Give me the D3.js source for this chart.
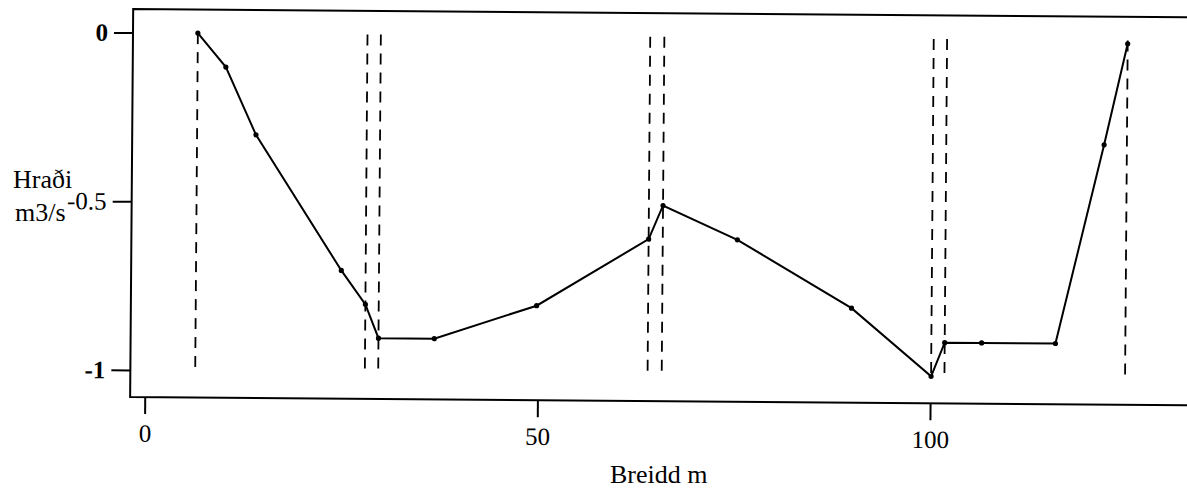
<!DOCTYPE html>
<html>
<head>
<meta charset="utf-8">
<script src="https://cdn.jsdelivr.net/npm/d3@7"></script>
<style>
    body { margin: 0; background: #fff; }
    #chart-container { width: 1187px; height: 493px; }
</style>
</head>
<body>
<div id="chart-container"></div>
<script>
// measured cross-section: distance (m) and speed
var breidd = [6.4, 10.0, 13.9, 24.9, 28.0, 29.7, 36.8, 49.8, 64.0, 65.8, 75.3, 89.9, 100.1, 101.8, 106.5, 115.9, 121.9, 124.8];
var hradi = [0, -0.1, -0.3, -0.7, -0.8, -0.9, -0.9, -0.8, -0.6, -0.5, -0.6, -0.8, -1.0, -0.9, -0.9, -0.9, -0.31, -0.01];
// dashed section boundaries
var skil = [6.4, 28.0, 29.7, 64.0, 65.8, 100.1, 101.8, 124.8];
var skilTop = 0, skilBottom = -1;
var xTicks = [0, 50, 100];
var yTicks = [0, -0.5, -1];
var yTickLabels = ["0", "-0.5", "-1"];

var serif = '"Liberation Serif", "Times New Roman", "DejaVu Serif", serif';

var containerStyle = document.querySelector('#chart-container').getBoundingClientRect();
var width = containerStyle.width,
    height = containerStyle.height,
    plotLeft = 133,
    plotTop = 9,
    plotBottom = 397,
    plotRight = 1200,
    tilt = 0.45;

var xScale = d3.scaleLinear()
    .domain([-1.86, 134])
    .range([plotLeft, plotRight]);

var yScale = d3.scaleLinear()
    .domain([0.07, -1.08])
    .range([plotTop, plotBottom]);

var points = breidd.map((d, i) => ({ x: d, y: hradi[i] }));

var svg = d3.select("#chart-container").append('svg')
    .attr('width', width)
    .attr('height', height);

// the scanned figure is slightly rotated
var view = svg.append("g")
    .attr("transform", "rotate(" + tilt + "," + plotLeft + "," + yScale(0) + ")");

view.append('path')
    .attr('d', 'M' + plotRight + ',' + plotTop + 'H' + plotLeft + 'V' + plotBottom + 'H' + plotRight)
    .attr('fill', 'none')
    .attr('stroke', '#000')
    .attr('stroke-width', 2);

var yAxis = d3.axisLeft(yScale)
    .tickValues(yTicks)
    .tickFormat((d, i) => yTickLabels[i])
    .tickSize(19)
    .tickPadding(6);

var xAxis = d3.axisBottom(xScale)
    .tickValues(xTicks)
    .tickSize(17)
    .tickPadding(10);

var gY = view.append("g")
    .attr("class", "axis axis--y")
    .attr("transform", "translate(" + plotLeft + ",0)")
    .call(yAxis);

var gX = view.append("g")
    .attr("class", "axis axis--x")
    .attr("transform", "translate(0," + plotBottom + ")")
    .call(xAxis);

[gX, gY].forEach(g => {
    g.select('.domain').remove();
    g.selectAll('line').attr('stroke', '#000').attr('stroke-width', 2);
    g.selectAll('text')
        .attr('fill', '#000')
        .attr('font-family', serif)
        .attr('font-size', 25);
});
gY.selectAll('text').attr('font-weight', (d, i) => i == 1 ? 'normal' : 'bold');

view.selectAll('.skil')
    .data(skil).enter().append('line')
    .attr('class', 'skil')
    .attr('x1', d => xScale(d))
    .attr('x2', d => xScale(d))
    .attr('y1', yScale(skilTop))
    .attr('y2', yScale(skilBottom))
    .attr('stroke', '#000')
    .attr('stroke-width', 1.8)
    .attr('stroke-dasharray', '11,8');

var line = d3.line()
    .x(d => xScale(d.x))
    .y(d => yScale(d.y));

view.append('path')
    .datum(points)
    .attr('d', line)
    .attr('fill', 'none')
    .attr('stroke', '#000')
    .attr('stroke-width', 2);

view.selectAll('.punktur')
    .data(points).enter().append('circle')
    .attr('class', 'punktur')
    .attr('cx', d => xScale(d.x))
    .attr('cy', d => yScale(d.y))
    .attr('r', 2.6)
    .attr('fill', '#000');

var titles = [
    { text: 'Hraði', x: 13, y: 188 },
    { text: 'm3/s', x: 15, y: 221 },
    { text: 'Breidd m', x: 610, y: 483 }
];

svg.selectAll('.titill')
    .data(titles).enter().append('text')
    .attr('class', 'titill')
    .attr('x', d => d.x)
    .attr('y', d => d.y)
    .attr('font-family', serif)
    .attr('font-size', 26)
    .attr('fill', '#000')
    .text(d => d.text);
</script>
</body>
</html>
